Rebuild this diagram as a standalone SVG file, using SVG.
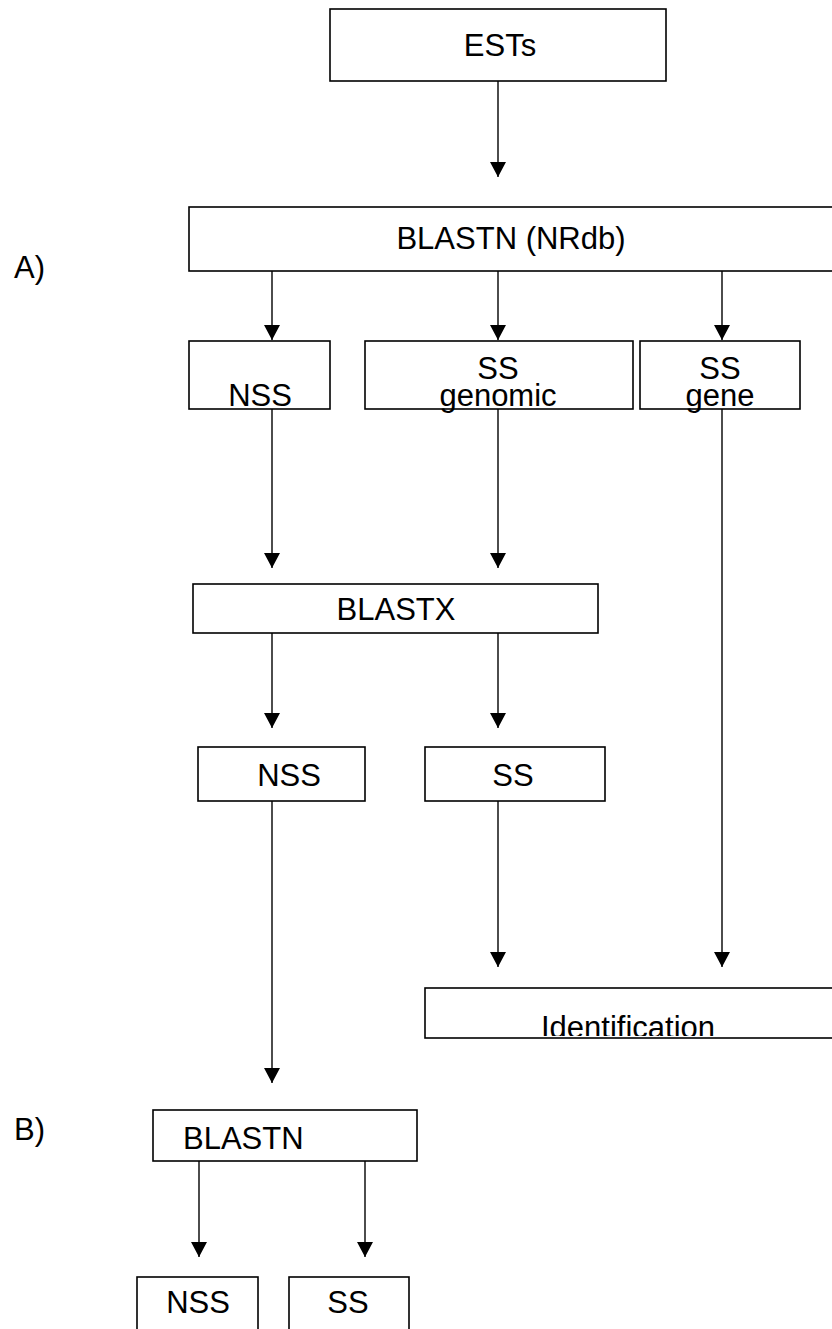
<svg xmlns="http://www.w3.org/2000/svg" width="832" height="1329" viewBox="0 0 832 1329">
<defs>
<marker id="ah" markerUnits="userSpaceOnUse" markerWidth="15" markerHeight="16" refX="15" refY="8" orient="auto" viewBox="0 0 15 16">
<path d="M0,0 L15,8 L0,16 z" fill="#000"/>
</marker>
<clipPath id="idclip"><rect x="425" y="988" width="420" height="48"/></clipPath>
</defs>
<style>
.box{fill:#fff;stroke:#000;stroke-width:1.6}
.t{font-family:"Liberation Sans",Arial,sans-serif;font-size:31px;fill:#000}
.c{text-anchor:middle}
.ln{stroke:#000;stroke-width:1.4;fill:none;marker-end:url(#ah)}
</style>
<rect width="832" height="1329" fill="#fff"/>
<g id="connectors">
<line class="ln" x1="498" y1="81" x2="498" y2="177"/>
<line class="ln" x1="272" y1="271" x2="272" y2="340"/>
<line class="ln" x1="498" y1="271" x2="498" y2="340"/>
<line class="ln" x1="722" y1="271" x2="722" y2="340"/>
<line class="ln" x1="272" y1="409" x2="272" y2="568"/>
<line class="ln" x1="498" y1="409" x2="498" y2="568"/>
<line class="ln" x1="272" y1="633" x2="272" y2="728"/>
<line class="ln" x1="498" y1="633" x2="498" y2="728"/>
<line class="ln" x1="272" y1="801" x2="272" y2="1083"/>
<line class="ln" x1="498" y1="801" x2="498" y2="967"/>
<line class="ln" x1="722" y1="409" x2="722" y2="967"/>
<line class="ln" x1="199" y1="1161" x2="199" y2="1257"/>
<line class="ln" x1="365" y1="1161" x2="365" y2="1257"/>
</g>
<g id="label-a"><text class="t" x="14" y="278">A)</text></g>
<g id="label-b"><text class="t" x="14" y="1140">B)</text></g>
<g id="ests"><rect class="box" x="330" y="9" width="336" height="72"/><text class="t c" x="500" y="56">ESTs</text></g>
<g id="blastn-nrdb"><rect class="box" x="189" y="207" width="660" height="64"/><text class="t c" x="511" y="249">BLASTN (NRdb)</text></g>
<g id="nss1"><rect class="box" x="189" y="341" width="141" height="68"/><text class="t c" x="260" y="406">NSS</text></g>
<g id="ss-genomic"><rect class="box" x="365" y="341" width="268" height="68"/><text class="t c" x="498" y="379">SS</text><text class="t c" x="498" y="406">genomic</text></g>
<g id="ss-gene"><rect class="box" x="640" y="341" width="160" height="68"/><text class="t c" x="720" y="379">SS</text><text class="t c" x="720" y="406">gene</text></g>
<g id="blastx"><rect class="box" x="193" y="584" width="405" height="49"/><text class="t c" x="396" y="620">BLASTX</text></g>
<g id="nss2"><rect class="box" x="198" y="747" width="167" height="54"/><text class="t c" x="289" y="786">NSS</text></g>
<g id="ss2"><rect class="box" x="425" y="747" width="180" height="54"/><text class="t c" x="513" y="786">SS</text></g>
<g id="identification"><rect class="box" x="425" y="988" width="420" height="50"/><text class="t c" x="628" y="1038" clip-path="url(#idclip)">Identification</text></g>
<g id="blastn"><rect class="box" x="153" y="1110" width="264" height="51"/><text class="t" x="183" y="1149">BLASTN</text></g>
<g id="nss3"><rect class="box" x="137" y="1277" width="121" height="70"/><text class="t c" x="198" y="1313">NSS</text></g>
<g id="ss3"><rect class="box" x="289" y="1277" width="120" height="70"/><text class="t c" x="348" y="1313">SS</text></g>
</svg>
